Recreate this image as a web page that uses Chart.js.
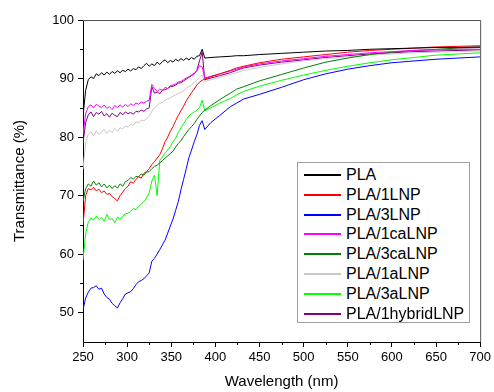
<!DOCTYPE html>
<html>
<head>
<meta charset="utf-8">
<title>Transmittance</title>
<script src="https://cdn.jsdelivr.net/npm/chart.js@4"></script>
<style>
  body { margin: 0; background: #fff; }
  #wrap { position: relative; width: 494px; height: 392px; }
  #legend {
    position: absolute; left: 297px; top: 162px; width: 173px; height: 161px;
    box-sizing: border-box; border: 1px solid #a0a0a0; background: #fff;
    font-family: 'Liberation Sans', Arial, sans-serif; font-size: 16px; color: #000;
  }
  #legend .row { position: absolute; left: 0; right: 0; height: 20px; line-height: 20px; }
  #legend .swatch { position: absolute; left: 6px; top: 9px; width: 37px; height: 2px; }
  #legend .txt { position: absolute; left: 48px; top: 0; white-space: nowrap; }
</style>
</head>
<body>
<div id="wrap">
  <canvas id="chart" width="494" height="392"></canvas>
  <div id="legend"></div>
</div>
<script>
// wavelength grid (nm)
const wavelengths = [
  250, 253, 256, 259, 262, 265, 268, 271, 274, 277, 280, 283, 286, 289, 292, 295,
  298, 301, 304, 307, 310, 313, 316, 319, 322, 325, 328, 331, 334, 337, 340, 343,
  346, 349, 352, 355, 358, 361, 364, 367, 370, 373, 376, 379, 382, 385, 388,
  395, 405, 417, 424, 432, 450, 475, 500, 525, 550, 575, 600, 625, 650, 675, 700
];

const seriesNames = ['PLA', 'PLA/1LNP', 'PLA/3LNP', 'PLA/1caLNP', 'PLA/3caLNP', 'PLA/1aLNP', 'PLA/3aLNP', 'PLA/1hybridLNP'];
const seriesColors = ['#000000', '#ff0000', '#0000ff', '#ff00ff', '#008000', '#c8c8c8', '#00ff00', '#800080'];

const pla = [
  83.5, 88.0, 89.8, 90.3, 90.0, 90.8, 90.5, 91.0, 90.6, 91.1, 90.7, 91.2, 90.9, 91.3, 91.0, 91.4,
  91.2, 91.6, 91.3, 91.7, 91.5, 92.0, 91.7, 92.2, 92.6, 92.1, 92.5, 92.2, 92.8, 92.4, 92.9, 93.2,
  92.7, 93.1, 92.8, 93.3, 93.0, 93.4, 93.1, 93.5, 93.2, 93.6, 93.3, 93.8, 93.9, 95.0, 93.5,
  93.6, 93.7, 93.8, 93.9, 93.9, 94.1, 94.3, 94.5, 94.7, 94.8, 95.0, 95.1, 95.2, 95.3, 95.3, 95.4
];
const pla1LNP = [
  65.0, 70.0, 71.2, 71.0, 71.4, 70.8, 71.1, 70.5, 70.8, 70.2, 70.4, 69.8, 69.5, 69.1, 70.0, 70.6,
  71.2, 71.6, 72.4, 72.1, 72.8, 73.2, 73.0, 73.8, 74.1, 74.6, 75.3, 75.8, 76.4, 77.0, 78.0, 79.2,
  80.0, 81.0, 81.8, 82.8, 83.7, 84.5, 85.3, 86.2, 86.9, 87.6, 88.2, 88.9, 89.4, 89.7, 89.9,
  90.3, 90.8, 91.4, 91.8, 92.1, 92.7, 93.3, 93.7, 94.1, 94.5, 94.8, 95.0, 95.2, 95.4, 95.5, 95.6
];
const pla3LNP = [
  50.5, 52.5, 53.5, 54.2, 54.3, 54.6, 54.0, 54.2, 53.2, 52.6, 52.3, 51.6, 51.2, 50.8, 51.7, 52.4,
  53.2, 53.4, 53.6, 54.1, 54.8, 55.3, 55.5, 55.8, 56.3, 56.8, 58.8, 59.3, 60.0, 60.8, 61.6, 62.4,
  63.6, 64.8, 66.0, 67.5, 69.0, 71.0, 72.8, 74.6, 76.5, 77.8, 79.2, 80.4, 82.0, 82.8, 81.3,
  82.5, 83.7, 85.2, 85.8, 86.5, 87.3, 88.5, 89.8, 90.8, 91.6, 92.2, 92.7, 93.0, 93.3, 93.5, 93.7
];
const pla1caLNP = [
  80.5, 84.0, 85.2, 85.5, 85.0, 85.6, 85.3, 85.0, 85.5, 84.9, 85.2, 84.7, 85.4, 85.0, 85.5, 85.1,
  85.6, 85.2, 85.7, 85.4, 85.8, 85.6, 86.0, 85.8, 86.1, 86.3, 89.0, 88.3, 87.8, 88.2, 88.0, 88.5,
  88.3, 88.8, 88.9, 89.1, 89.4, 89.5, 89.8, 90.1, 90.3, 90.6, 90.9, 91.3, 92.2, 92.0, 90.1,
  90.4, 90.8, 91.3, 91.6, 92.0, 92.5, 93.0, 93.4, 93.8, 94.1, 94.4, 94.6, 94.8, 94.9, 95.0, 95.0
];
const pla3caLNP = [
  69.0, 71.2, 72.0, 71.6, 72.5, 71.8, 72.2, 71.5, 72.0, 71.3, 71.8, 71.2, 71.7, 71.3, 72.0, 71.6,
  72.4, 72.6, 73.1, 72.8, 73.3, 73.2, 73.7, 73.5, 74.0, 74.1, 74.6, 75.0, 75.2, 75.6, 76.0, 76.4,
  76.8, 77.2, 77.6, 78.3, 78.9, 79.4, 80.1, 80.7, 81.3, 81.8, 82.3, 83.0, 83.6, 84.2, 84.6,
  85.4, 86.4, 87.5, 88.2, 88.6, 89.6, 90.7, 91.8, 92.8, 93.5, 94.1, 94.5, 94.8, 95.0, 95.2, 95.3
];
const pla1aLNP = [
  74.5, 79.0, 80.5, 80.9, 80.2, 81.1, 80.4, 80.9, 81.3, 80.6, 81.2, 80.8, 81.5, 81.0, 81.6, 81.4,
  81.9, 81.7, 82.2, 82.0, 82.6, 82.4, 82.9, 82.8, 83.1, 83.5, 84.4, 85.0, 85.4, 85.8, 85.9, 86.3,
  86.5, 86.7, 87.0, 87.2, 87.5, 87.6, 87.9, 88.3, 88.6, 88.9, 89.3, 89.7, 90.2, 90.6, 89.5,
  89.8, 90.2, 90.7, 91.0, 91.4, 91.9, 92.5, 93.0, 93.4, 93.7, 94.0, 94.2, 94.4, 94.5, 94.6, 94.7
];
const pla3aLNP = [
  59.0, 63.5, 65.5, 66.2, 65.8, 66.5, 65.9, 66.3, 65.6, 66.8, 65.9, 66.1, 65.4, 66.3, 66.0, 66.5,
  66.9, 67.0, 67.3, 67.8, 67.6, 68.2, 68.5, 69.0, 69.6, 70.5, 72.5, 73.5, 70.0, 76.0, 76.6, 77.3,
  77.8, 78.4, 79.2, 79.8, 80.8, 81.6, 82.3, 83.0, 83.6, 84.0, 84.3, 84.6, 85.0, 86.3, 84.5,
  85.0, 85.8, 86.6, 87.2, 87.8, 88.7, 89.7, 90.6, 91.4, 92.1, 92.7, 93.2, 93.6, 94.0, 94.2, 94.4
];
const pla1hybridLNP = [
  79.0, 82.5, 83.8, 84.3, 83.5, 84.2, 83.9, 84.4, 83.6, 84.0, 83.4, 84.1, 83.7, 83.5, 84.2, 83.8,
  84.3, 84.0, 84.2, 83.9, 84.4, 84.3, 84.6, 84.4, 84.8, 85.0, 88.6, 87.5, 87.7, 87.4, 88.0, 88.1,
  88.3, 88.6, 88.7, 88.9, 89.2, 89.3, 89.6, 89.9, 90.2, 90.5, 90.8, 91.4, 93.0, 94.5, 89.8,
  90.1, 90.5, 91.0, 91.4, 91.8, 92.3, 92.8, 93.2, 93.6, 93.9, 94.2, 94.4, 94.6, 94.7, 94.8, 94.9
];
const seriesValues = [pla, pla1LNP, pla3LNP, pla1caLNP, pla3caLNP, pla1aLNP, pla3aLNP, pla1hybridLNP];

// axis ticks
const xTicks = [250, 300, 350, 400, 450, 500, 550, 600, 650, 700];
const xMinor = [275, 325, 375, 425, 475, 525, 575, 625, 675];
const yTicks = [50, 60, 70, 80, 90, 100];
const yMinor = [55, 65, 75, 85, 95];

document.addEventListener('DOMContentLoaded', () => {
    const ctx = document.getElementById('chart').getContext('2d');
    const font = "'Liberation Sans', Arial, sans-serif";

    // minor ticks + top/right frame
    const framePlugin = {
        id: 'frame',
        afterDraw(chart) {
            const { ctx, chartArea, scales: { x, y } } = chart;
            ctx.save();
            ctx.strokeStyle = '#000';
            ctx.lineWidth = 1;
            ctx.beginPath();
            xMinor.forEach(v => {
                const px = Math.round(x.getPixelForValue(v)) + 0.5;
                ctx.moveTo(px, chartArea.bottom);
                ctx.lineTo(px, chartArea.bottom + 3);
            });
            yMinor.forEach(v => {
                const py = Math.round(y.getPixelForValue(v)) + 0.5;
                ctx.moveTo(chartArea.left, py);
                ctx.lineTo(chartArea.left - 3, py);
            });
            ctx.stroke();
            ctx.strokeStyle = '#555';
            ctx.beginPath();
            ctx.moveTo(chartArea.left, chartArea.top + 0.5);
            ctx.lineTo(chartArea.right + 0.5, chartArea.top + 0.5);
            ctx.lineTo(chartArea.right + 0.5, chartArea.bottom);
            ctx.stroke();
            ctx.restore();
        }
    };

    new Chart(ctx, {
        type: 'line',
        data: {
            datasets: seriesNames.map((name, i) => ({
                label: name,
                data: seriesValues[i].map((v, j) => ({ x: wavelengths[j], y: v })),
                borderColor: seriesColors[i],
                borderWidth: 1,
                pointRadius: 0,
                tension: 0,
                fill: false
            }))
        },
        options: {
            responsive: false,
            animation: false,
            devicePixelRatio: 1,
            layout: { padding: { left: 0, right: 13, top: 20, bottom: 0 } },
            scales: {
                x: {
                    type: 'linear',
                    min: 250,
                    max: 700,
                    afterBuildTicks: (scale) => { scale.ticks = xTicks.map(v => ({ value: v })); },
                    afterFit: (scale) => { scale.height = 50; },
                    grid: { drawOnChartArea: false, tickLength: 5, color: '#000' },
                    border: { color: '#000', width: 1 },
                    ticks: { color: '#000', padding: 3, maxRotation: 0, font: { family: font, size: 13 } },
                    title: { display: true, text: 'Wavelength (nm)', color: '#000', padding: { top: 0, bottom: 1 }, font: { family: font, size: 15 } }
                },
                y: {
                    min: 45,
                    max: 100,
                    afterBuildTicks: (scale) => { scale.ticks = yTicks.map(v => ({ value: v })); },
                    afterFit: (scale) => { scale.width = 83; },
                    grid: { drawOnChartArea: false, tickLength: 5, color: '#000' },
                    border: { color: '#000', width: 1 },
                    ticks: { color: '#000', padding: 4, font: { family: font, size: 13 } },
                    title: { display: true, text: 'Transmittance (%)', color: '#000', padding: { top: 11, bottom: 0 }, font: { family: font, size: 15 } }
                }
            },
            plugins: {
                legend: { display: false },
                tooltip: { enabled: false }
            }
        },
        plugins: [framePlugin]
    });

    // legend box
    const legend = document.getElementById('legend');
    seriesNames.forEach((name, i) => {
        const row = document.createElement('div');
        row.className = 'row';
        row.style.top = (2 + i * 19.8) + 'px';
        const sw = document.createElement('span');
        sw.className = 'swatch';
        sw.style.background = seriesColors[i];
        const txt = document.createElement('span');
        txt.className = 'txt';
        txt.textContent = name;
        row.appendChild(sw);
        row.appendChild(txt);
        legend.appendChild(row);
    });
});
</script>
</body>
</html>
